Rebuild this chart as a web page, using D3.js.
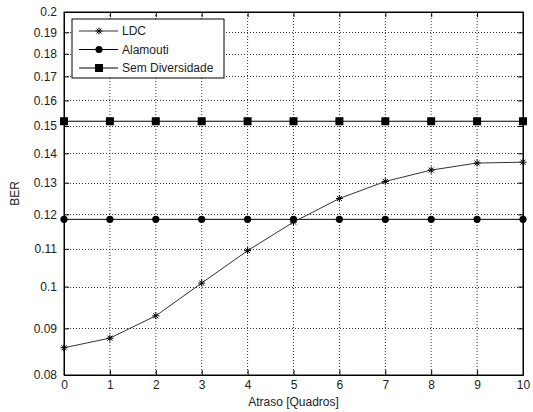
<!DOCTYPE html>
<html>
<head>
<meta charset="utf-8">
<script src="https://cdn.jsdelivr.net/npm/d3@7"></script>
<style>
  body { margin: 0; background: #fff; }
  text { font-family: "Liberation Sans", Arial, sans-serif; }
</style>
</head>
<body>
<div id="chart"></div>
<script>
// data
const delays = [0, 1, 2, 3, 4, 5, 6, 7, 8, 9, 10];
const ldc = [0.0857, 0.0878, 0.0929, 0.1009, 0.1095, 0.1177, 0.1249, 0.1304, 0.1342, 0.1366, 0.1369];
const alamouti = [0.1185, 0.1185, 0.1185, 0.1185, 0.1185, 0.1185, 0.1185, 0.1185, 0.1185, 0.1185, 0.1185];
const semDiv = [0.1518, 0.1518, 0.1518, 0.1518, 0.1518, 0.1518, 0.1518, 0.1518, 0.1518, 0.1518, 0.1518];
const xTicks = [0, 1, 2, 3, 4, 5, 6, 7, 8, 9, 10];
const yTicks = [0.08, 0.09, 0.1, 0.11, 0.12, 0.13, 0.14, 0.15, 0.16, 0.17, 0.18, 0.19, 0.2];
const yTickLabels = ["0.08", "0.09", "0.1", "0.11", "0.12", "0.13", "0.14", "0.15", "0.16", "0.17", "0.18", "0.19", "0.2"];
const seriesNames = ["LDC", "Alamouti", "Sem Diversidade"];

const margin = {top: 12, right: 10, bottom: 37, left: 64},
  width = 533 - margin.left - margin.right,
  height = 412 - margin.top - margin.bottom;

const svg = d3.select("#chart")
  .append("svg")
    .attr("width", 533)
    .attr("height", 412)
  .append("g")
    .attr("transform", "translate(" + margin.left + "," + margin.top + ")");

const x = d3.scaleLinear().domain([0, 10]).range([0, width]);
const y = d3.scaleLog().domain([0.08, 0.2]).range([height, 0]);

// grid
svg.append("g")
  .selectAll("line")
  .data(xTicks.slice(1, -1))
  .enter().append("line")
    .attr("x1", d => x(d)).attr("x2", d => x(d))
    .attr("y1", 0).attr("y2", height)
    .attr("stroke", "#333").attr("stroke-dasharray", "1,2");
svg.append("g")
  .selectAll("line")
  .data(yTicks.slice(1, -1))
  .enter().append("line")
    .attr("y1", d => Math.round(y(d)) + 0.5).attr("y2", d => Math.round(y(d)) + 0.5)
    .attr("x1", 0).attr("x2", width)
    .attr("stroke", "#333").attr("stroke-dasharray", "1,2");

// axes, ticks inward on all four sides
const tickFmt = d => yTickLabels[yTicks.indexOf(d)];
svg.append("g")
  .attr("transform", "translate(0," + height + ")")
  .call(d3.axisBottom(x).tickValues(xTicks).tickSizeInner(-5).tickSizeOuter(0).tickPadding(5));
svg.append("g")
  .call(d3.axisTop(x).tickValues(xTicks).tickSizeInner(-5).tickSizeOuter(0).tickFormat(""));
svg.append("g")
  .call(d3.axisLeft(y).tickValues(yTicks).tickFormat(tickFmt).tickSizeInner(-5).tickSizeOuter(0).tickPadding(7));
svg.append("g")
  .attr("transform", "translate(" + width + ",0)")
  .call(d3.axisRight(y).tickValues(yTicks).tickFormat("").tickSizeInner(-5).tickSizeOuter(0));

svg.selectAll(".domain").attr("stroke", "#000");
svg.selectAll(".tick line").attr("stroke", "#000");
svg.selectAll(".tick text").attr("font-size", "12px").attr("fill", "#222")
  .attr("font-family", "'Liberation Sans', Arial, sans-serif");

// box
svg.append("rect")
  .attr("x", 0).attr("y", 0).attr("width", width).attr("height", height)
  .attr("fill", "none").attr("stroke", "#000");

// axis labels
svg.append("text")
  .attr("x", width / 2).attr("y", height + 31)
  .attr("text-anchor", "middle").attr("font-size", "12px").attr("fill", "#222")
  .text("Atraso [Quadros]");
svg.append("text")
  .attr("transform", "translate(" + (-45) + "," + (height / 2) + ") rotate(-90)")
  .attr("text-anchor", "middle").attr("font-size", "12px").attr("fill", "#222")
  .text("BER");

// lines and markers
const line = d3.line().x((d, i) => x(delays[i])).y(d => y(d));
const starPath = "M-3.5,0L3.5,0M0,-3.5L0,3.5M-2.5,-2.5L2.5,2.5M-2.5,2.5L2.5,-2.5";

function drawMarker(g, kind) {
  if (kind === 0) {
    g.append("path").attr("d", starPath).attr("stroke", "#000").attr("stroke-width", 1);
  } else if (kind === 1) {
    g.append("circle").attr("r", 3.6).attr("fill", "#000");
  } else {
    g.append("rect").attr("x", -4).attr("y", -4).attr("width", 8).attr("height", 8).attr("fill", "#000");
  }
}

[semDiv, alamouti, ldc].forEach(function(vals) {
  const kind = vals === ldc ? 0 : (vals === alamouti ? 1 : 2);
  svg.append("path")
    .datum(vals)
    .attr("d", line)
    .attr("fill", "none")
    .attr("stroke", kind === 0 ? "#333" : "#000")
    .attr("stroke-width", 1);
  svg.selectAll(".m" + kind)
    .data(vals)
    .enter().append("g")
      .attr("class", "m" + kind)
      .attr("transform", (d, i) => "translate(" + x(delays[i]) + "," + y(d) + ")")
      .each(function() { drawMarker(d3.select(this), kind); });
});

// legend
const legend = svg.append("g").attr("transform", "translate(8,7)");
legend.append("rect")
  .attr("x", 0).attr("y", 0).attr("width", 152).attr("height", 59)
  .attr("fill", "#fff").attr("stroke", "#000");
seriesNames.forEach(function(name, i) {
  const yy = 12 + i * 18.5;
  legend.append("line")
    .attr("x1", 7).attr("x2", 46).attr("y1", yy).attr("y2", yy)
    .attr("stroke", i === 0 ? "#333" : "#000");
  drawMarker(legend.append("g").attr("transform", "translate(27," + yy + ")"), i);
  legend.append("text")
    .attr("x", 50).attr("y", yy + 4)
    .attr("font-size", "12px").attr("fill", "#222")
    .text(name);
});
</script>
</body>
</html>
